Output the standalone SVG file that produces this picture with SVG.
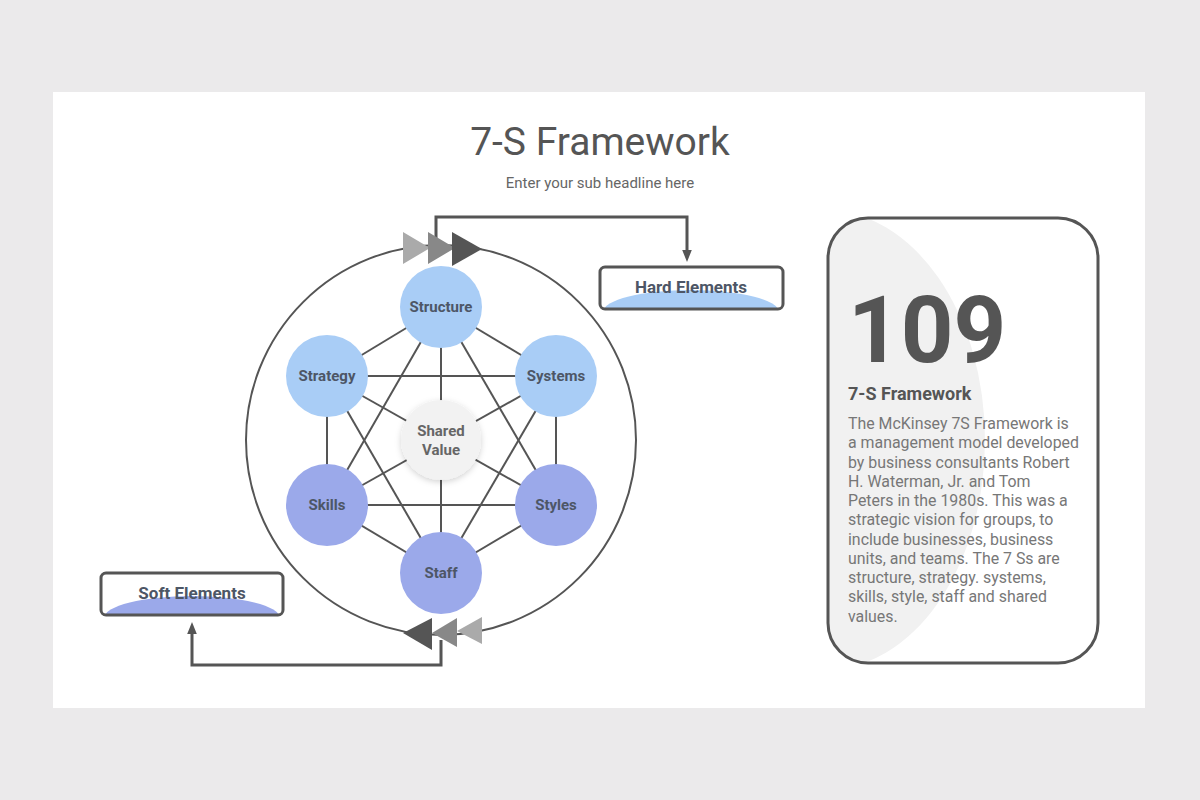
<svg xmlns="http://www.w3.org/2000/svg" width="1200" height="800" viewBox="0 0 1200 800">
<defs>
<style>
.ln{stroke:#555;stroke-width:2;fill:none}
.con{stroke:#555;stroke-width:3;fill:none}
.lbl{font-family:Roboto,"Liberation Sans",sans-serif;font-weight:bold;font-size:15px;fill:#4d5666;text-anchor:middle}
.box{fill:#fff;stroke:#555;stroke-width:3}
.body{font-family:Roboto,"Liberation Sans",sans-serif;font-size:15.9px;fill:#777}
</style>
<filter id="sh" x="-30%" y="-30%" width="160%" height="160%"><feDropShadow dx="0" dy="2" stdDeviation="3" flood-color="#000" flood-opacity="0.18"/></filter>
<clipPath id="cardclip"><rect x="828" y="218" width="270" height="445" rx="40"/></clipPath>
<clipPath id="hardclip"><rect x="600" y="267" width="183" height="42" rx="5"/></clipPath>
<clipPath id="softclip"><rect x="101" y="573" width="182" height="42" rx="5"/></clipPath>
<marker id="ah" viewBox="0 0 10 10" refX="5" refY="5" markerWidth="4" markerHeight="4" orient="auto"><path d="M0,1 L10,5 L0,9 z" fill="#555"/></marker>
</defs>
<rect width="1200" height="800" fill="#ebeaeb"/>
<rect x="53" y="92" width="1092" height="616" fill="#fff"/>
<text x="600" y="155" font-family="Roboto,'Liberation Sans',sans-serif" font-size="39" fill="#555" text-anchor="middle">7-S Framework</text>
<text x="600" y="188" font-family="Roboto,'Liberation Sans',sans-serif" font-size="15" fill="#666" text-anchor="middle">Enter your sub headline here</text>
<circle cx="441" cy="440" r="195" class="ln"/>
<g id="connectors">
<line x1="441" y1="307" x2="327" y2="376" class="ln"/>
<line x1="441" y1="307" x2="556" y2="376" class="ln"/>
<line x1="441" y1="307" x2="327" y2="505" class="ln"/>
<line x1="441" y1="307" x2="556" y2="505" class="ln"/>
<line x1="441" y1="307" x2="441" y2="573" class="ln"/>
<line x1="327" y1="376" x2="556" y2="376" class="ln"/>
<line x1="327" y1="376" x2="327" y2="505" class="ln"/>
<line x1="327" y1="376" x2="441" y2="573" class="ln"/>
<line x1="327" y1="376" x2="556" y2="505" class="ln"/>
<line x1="556" y1="376" x2="556" y2="505" class="ln"/>
<line x1="556" y1="376" x2="441" y2="573" class="ln"/>
<line x1="556" y1="376" x2="327" y2="505" class="ln"/>
<line x1="327" y1="505" x2="556" y2="505" class="ln"/>
<line x1="327" y1="505" x2="441" y2="573" class="ln"/>
<line x1="556" y1="505" x2="441" y2="573" class="ln"/>
<polyline points="436,246 436,217 687,217 687,256" class="con" marker-end="url(#ah)"/>
<polyline points="441,640 441,665 192,665 192,628" class="con" marker-end="url(#ah)"/>
<polygon points="403,232 430,248 403,264" fill="#aaa"/>
<polygon points="428,232 455,248 428,264" fill="#888"/>
<polygon points="452,232 482,249 452,266" fill="#555"/>
<polygon points="482,617 457,631 482,644" fill="#aaa"/>
<polygon points="457,618 432,633 457,647" fill="#888"/>
<polygon points="432,618 403,633 432,650" fill="#555"/>
</g>
<g id="structure"><circle cx="441" cy="307" r="41" fill="#a9cdf6"/><text x="441" y="312" class="lbl">Structure</text></g>
<g id="strategy"><circle cx="327" cy="376" r="41" fill="#a9cdf6"/><text x="327" y="381" class="lbl">Strategy</text></g>
<g id="systems"><circle cx="556" cy="376" r="41" fill="#a9cdf6"/><text x="556" y="381" class="lbl">Systems</text></g>
<g id="skills"><circle cx="327" cy="505" r="41" fill="#9ba9ea"/><text x="327" y="510" class="lbl">Skills</text></g>
<g id="styles"><circle cx="556" cy="505" r="41" fill="#9ba9ea"/><text x="556" y="510" class="lbl">Styles</text></g>
<g id="staff"><circle cx="441" cy="573" r="41" fill="#9ba9ea"/><text x="441" y="578" class="lbl">Staff</text></g>
<g id="shared"><circle cx="441" cy="440" r="40" fill="#f2f2f2" filter="url(#sh)"/><text x="441" y="436" class="lbl" style="fill:#666">Shared</text><text x="441" y="455" class="lbl" style="fill:#666">Value</text></g>
<g id="hard">
<rect x="600" y="267" width="183" height="42" rx="5" fill="#fff"/>
<ellipse cx="691" cy="312" rx="88" ry="22" fill="#a9cdf6" clip-path="url(#hardclip)"/>
<rect x="600" y="267" width="183" height="42" rx="5" fill="none" stroke="#555" stroke-width="3"/>
<text x="691" y="293" class="lbl" style="font-size:17px">Hard Elements</text>
</g>
<g id="soft">
<rect x="101" y="573" width="182" height="42" rx="5" fill="#fff"/>
<ellipse cx="192" cy="618" rx="88" ry="22" fill="#9ba9ea" clip-path="url(#softclip)"/>
<rect x="101" y="573" width="182" height="42" rx="5" fill="none" stroke="#555" stroke-width="3"/>
<text x="192" y="599" class="lbl" style="font-size:17px">Soft Elements</text>
</g>
<g id="card">
<rect x="828" y="218" width="270" height="445" rx="40" fill="#fff"/>
<ellipse cx="825" cy="440" rx="160" ry="230" fill="#f1f1f1" clip-path="url(#cardclip)"/>
<rect x="828" y="218" width="270" height="445" rx="40" fill="none" stroke="#555" stroke-width="3"/>
<text x="848" y="362" font-family="Roboto,'Liberation Sans',sans-serif" font-weight="bold" font-size="92" fill="#555">109</text>
<text x="848" y="400" font-family="Roboto,'Liberation Sans',sans-serif" font-weight="bold" font-size="18" fill="#555">7-S Framework</text>
<text class="body">
<tspan x="848" y="429">The McKinsey 7S Framework is</tspan>
<tspan x="848" y="448">a management model developed</tspan>
<tspan x="848" y="468">by business consultants Robert</tspan>
<tspan x="848" y="487">H. Waterman, Jr. and Tom</tspan>
<tspan x="848" y="506">Peters in the 1980s. This was a</tspan>
<tspan x="848" y="525">strategic vision for groups, to</tspan>
<tspan x="848" y="545">include businesses, business</tspan>
<tspan x="848" y="564">units, and teams. The 7 Ss are</tspan>
<tspan x="848" y="583">structure, strategy. systems,</tspan>
<tspan x="848" y="602">skills, style, staff and shared</tspan>
<tspan x="848" y="622">values.</tspan>
</text>
</g>
</svg>
